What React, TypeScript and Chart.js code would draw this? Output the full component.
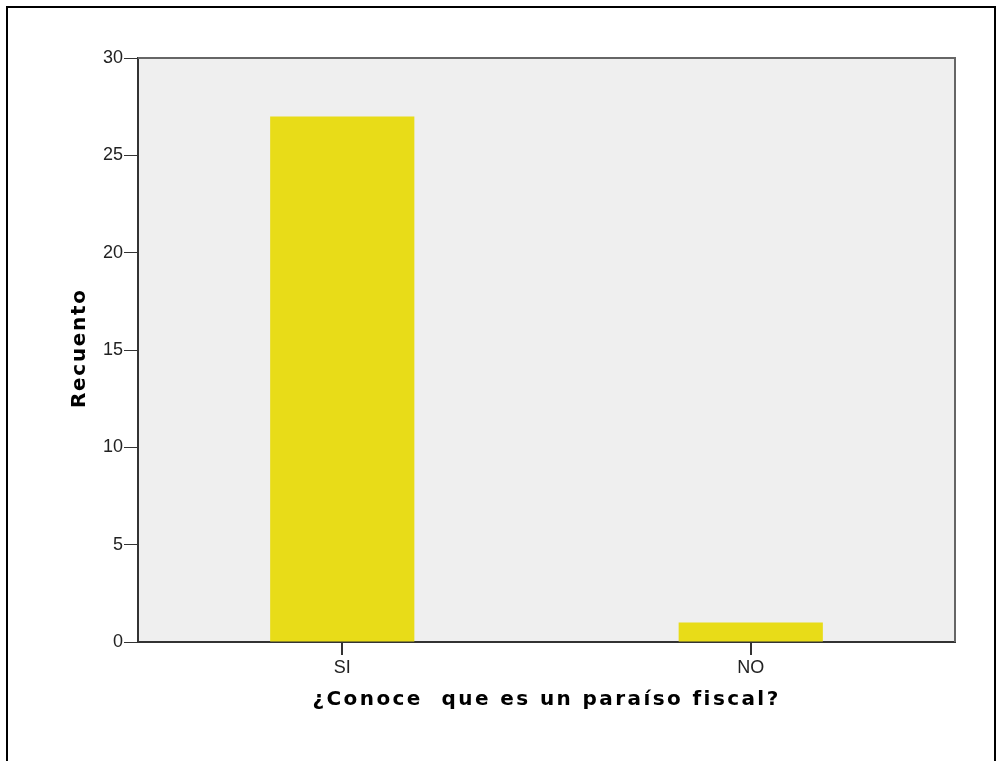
import React, { useEffect, useRef } from "react";
import { Chart, registerables } from "chart.js";

Chart.register(...registerables);

const categories = ["SI", "NO"];
const counts = [27, 1];
const yTicks = [0, 5, 10, 15, 20, 25, 30];
const xTitle = "¿Conoce  que es un paraíso fiscal?";
const yTitle = "Recuento";

const PLOT = { left: 138, top: 58, right: 955, bottom: 642 };
const FONT = "'Liberation Sans', Arial, sans-serif";
const TITLE_FONT = "bold 20px 'DejaVu Sans', Verdana, sans-serif";

function drawSpaced(ctx: any, text: string, cx: number, cy: number, target: number) {
  ctx.letterSpacing = "0px";
  const w = ctx.measureText(text).width;
  const n = Array.from(text).length;
  const sp = Math.max(0, (target - w) / (n - 1));
  ctx.letterSpacing = sp + "px";
  ctx.textAlign = "left";
  ctx.fillText(text, cx - target / 2, cy);
  ctx.letterSpacing = "0px";
}

const decorPlugin = {
  id: "decor",
  beforeDraw(chart: any) {
    const { ctx, chartArea } = chart;
    ctx.save();
    ctx.fillStyle = "#ffffff";
    ctx.fillRect(0, 0, chart.width, chart.height);
    ctx.strokeStyle = "#000000";
    ctx.lineWidth = 2;
    ctx.strokeRect(7, 7, 988, 770);
    ctx.fillStyle = "#efefef";
    ctx.fillRect(chartArea.left, chartArea.top, chartArea.right - chartArea.left, chartArea.bottom - chartArea.top);
    ctx.restore();
  },
  afterDatasetsDraw(chart: any) {
    const { ctx, chartArea } = chart;
    ctx.save();
    ctx.strokeStyle = "#666666";
    ctx.lineWidth = 2;
    ctx.beginPath();
    ctx.moveTo(chartArea.left, chartArea.top);
    ctx.lineTo(chartArea.right, chartArea.top);
    ctx.lineTo(chartArea.right, chartArea.bottom);
    ctx.stroke();
    ctx.fillStyle = "#000000";
    ctx.font = TITLE_FONT;
    ctx.textBaseline = "middle";
    drawSpaced(ctx, xTitle, 545, 700, 465);
    ctx.translate(80, 349);
    ctx.rotate(-Math.PI / 2);
    drawSpaced(ctx, yTitle, 0, 0, 118);
    ctx.restore();
  },
};

export default function App() {
  const ref = useRef<HTMLCanvasElement>(null);
  useEffect(() => {
    if (!ref.current) return;
    const chart = new Chart(ref.current, {
      type: "bar",
      data: {
        labels: categories,
        datasets: [
          {
            data: counts,
            backgroundColor: "#e8dc18",
            borderWidth: 0,
            barPercentage: 0.353,
            categoryPercentage: 1,
          },
        ],
      },
      options: {
        animation: false,
        responsive: false,
        maintainAspectRatio: false,
        layout: { padding: { left: 0, top: PLOT.top, right: 1000 - PLOT.right, bottom: 0 } },
        plugins: { legend: { display: false }, tooltip: { enabled: false } },
        scales: {
          x: {
            afterFit: (s: any) => { s.height = 761 - PLOT.bottom; },
            grid: { offset: false, drawOnChartArea: false, drawTicks: true, tickLength: 13, color: "#333333", lineWidth: 2 },
            border: { display: true, color: "#333333", width: 2 },
            ticks: { color: "#222222", font: { family: FONT, size: 18 }, padding: 2 },
          },
          y: {
            min: 0,
            max: 30,
            afterFit: (s: any) => { s.width = PLOT.left; },
            afterBuildTicks: (s: any) => { s.ticks = yTicks.map((v) => ({ value: v })); },
            grid: { drawOnChartArea: false, drawTicks: true, tickLength: 14, color: "#333333", lineWidth: 1 },
            border: { display: true, color: "#333333", width: 2 },
            ticks: { color: "#222222", font: { family: FONT, size: 18 }, padding: 1 },
          },
        },
      },
      plugins: [decorPlugin],
    });
    return () => chart.destroy();
  }, []);
  return (
    <div style={{ position: "fixed", left: 0, top: 0, width: 1000, height: 761 }}>
      <canvas ref={ref} width={1000} height={761} style={{ display: "block", width: 1000, height: 761 }} />
    </div>
  );
}
